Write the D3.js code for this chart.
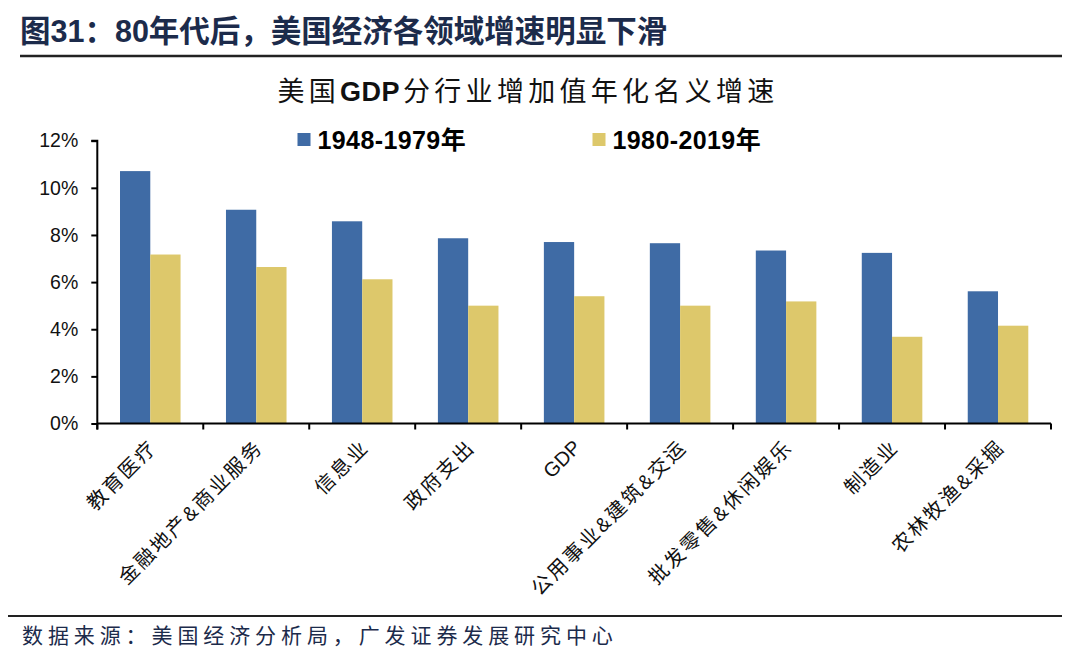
<!DOCTYPE html>
<html><head><meta charset="utf-8">
<script src="https://cdn.jsdelivr.net/npm/d3@7"></script>
<style>
body{margin:0;background:#fff;}
svg{display:block;font-family:"Liberation Sans",Arial,sans-serif;}
</style></head>
<body>
<svg id="c" width="1080" height="654"></svg>
<script>
const categories = ["教育医疗","金融地产&商业服务","信息业","政府支出","GDP","公用事业&建筑&交运","批发零售&休闲娱乐","制造业","农林牧渔&采掘"];
const series = ["1948-1979年","1980-2019年"];
const values1948 = [10.71, 9.07, 8.58, 7.86, 7.70, 7.65, 7.34, 7.24, 5.61];
const values1980 = [7.17, 6.64, 6.12, 5.00, 5.40, 5.00, 5.18, 3.68, 4.15];
const yTicks = [0, 2, 4, 6, 8, 10, 12];
const colors = ["#3F6BA5", "#DDC86B"];

const svg = d3.select("#c");
const cjk = '"Noto Sans CJK SC","Liberation Sans",sans-serif';
const latinFirst = '"Liberation Sans","Noto Sans CJK SC",sans-serif';

// header
svg.append("text").attr("x", 20).attr("y", 42)
  .attr("font-family", latinFirst)
  .attr("font-weight", "bold").attr("font-size", 30.5).attr("fill", "#1c2b4b")
  .text("图31：80年代后，美国经济各领域增速明显下滑");
svg.append("line").attr("x1", 20).attr("x2", 1062).attr("y1", 56).attr("y2", 56)
  .attr("stroke", "#222").attr("stroke-width", 2.5);

// chart title
svg.append("text").attr("x", 528).attr("y", 101).attr("text-anchor", "middle")
  .attr("font-family", cjk).attr("font-size", 27).attr("fill", "#111")
  .html('<tspan letter-spacing="4.3">美国</tspan><tspan font-family="Liberation Sans" font-weight="bold" letter-spacing="0.5">GDP</tspan><tspan letter-spacing="4.3" dx="3">分行业增加值年化名义增速</tspan>');

const x = d3.scaleBand().domain(categories).range([97.3, 1051]).padding(0);
const xs = d3.scaleBand().domain(series).range([0, x.step()]).paddingInner(0).paddingOuter(0.75);
const y = d3.scaleLinear().domain([0, 12]).range([423.5, 140.7]);

const data = categories.map((c, i) => ({c, v: [values1948[i], values1980[i]]}));

const g = svg.append("g");
g.selectAll("g.grp").data(data).join("g").attr("class", "grp")
  .attr("transform", d => `translate(${x(d.c)},0)`)
  .selectAll("rect").data(d => d.v.map((v, k) => ({s: series[k], v, k})))
  .join("rect")
  .attr("x", d => xs(d.s)).attr("width", xs.bandwidth())
  .attr("y", d => y(d.v)).attr("height", d => y(0) - y(d.v))
  .attr("fill", d => colors[d.k]);

// y axis
const ya = svg.append("g").attr("transform", `translate(${x.range()[0]},0)`)
  .call(d3.axisLeft(y).tickValues(yTicks).tickFormat(d => d + "%").tickSize(6).tickPadding(13));
ya.select(".domain").attr("stroke", "#000").attr("stroke-width", 2)
  .attr("d", `M-6,${y(12)}H0V${y(0) + 6}`);
ya.selectAll(".tick line").attr("stroke", "#000").attr("stroke-width", 2);
ya.selectAll(".tick text").attr("font-size", 19.5).attr("fill", "#111")
  .attr("font-family", '"Liberation Sans",Arial,sans-serif');

// x axis
svg.append("line").attr("x1", x.range()[0]).attr("x2", x.range()[1])
  .attr("y1", y(0)).attr("y2", y(0)).attr("stroke", "#000").attr("stroke-width", 2);
const bounds = categories.map(c => x(c)).concat([x.range()[1]]);
svg.selectAll("line.xt").data(bounds).join("line").attr("class", "xt")
  .attr("x1", d => d).attr("x2", d => d).attr("y1", y(0)).attr("y2", y(0) + 6)
  .attr("stroke", "#000").attr("stroke-width", 2);

svg.selectAll("text.xl").data(categories).join("text").attr("class", "xl")
  .attr("text-anchor", "end")
  .attr("font-family", latinFirst).attr("font-size", 20)
  .attr("letter-spacing", d => /^[A-Za-z]+$/.test(d) ? 0 : 2.3).attr("fill", "#111")
  .attr("transform", d => `translate(${x(d) + x.step() / 2 + 8},${y(0) + 25}) rotate(-45)`)
  .text(d => d);

// legend
const lg = svg.selectAll("g.lg").data(series).join("g").attr("class", "lg")
  .attr("transform", (d, i) => `translate(${[297.5, 592.5][i]},133)`);
lg.append("rect").attr("width", 13).attr("height", 13).attr("fill", (d, i) => colors[i]);
lg.append("text").attr("x", 20).attr("y", 15.5).attr("font-size", 25).attr("font-weight", "bold")
  .attr("letter-spacing", 0.4)
  .attr("fill", "#000").attr("font-family", latinFirst)
  .text(d => d);

// footer
svg.append("line").attr("x1", 8).attr("x2", 1062).attr("y1", 616).attr("y2", 616)
  .attr("stroke", "#222").attr("stroke-width", 2);
svg.append("text").attr("x", 22).attr("y", 643)
  .attr("font-family", cjk).attr("font-size", 21).attr("letter-spacing", 4.9).attr("fill", "#1c2b4b")
  .text("数据来源：美国经济分析局，广发证券发展研究中心");
</script>
</body></html>
